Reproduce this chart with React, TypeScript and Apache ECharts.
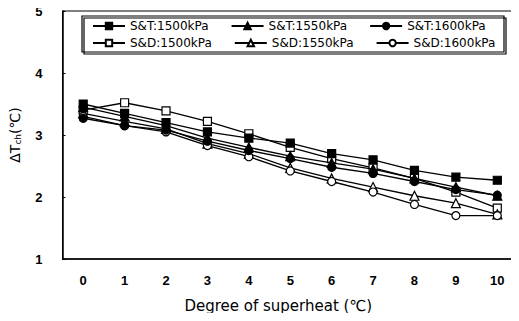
import React, { useEffect, useRef } from "react";
import * as echarts from "echarts";

const categories = ["0", "1", "2", "3", "4", "5", "6", "7", "8", "9", "10"];
const stT1500 = [3.5, 3.35, 3.2, 3.05, 2.95, 2.87, 2.7, 2.6, 2.43, 2.32, 2.27];
const stT1550 = [3.45, 3.3, 3.15, 2.95, 2.8, 2.66, 2.55, 2.45, 2.3, 2.16, 2.02];
const stT1600 = [3.27, 3.15, 3.08, 2.9, 2.75, 2.62, 2.48, 2.38, 2.25, 2.12, 2.03];
const sdD1500 = [3.4, 3.52, 3.39, 3.22, 3.02, 2.8, 2.62, 2.47, 2.3, 2.08, 1.82];
const sdD1550 = [3.35, 3.22, 3.1, 2.86, 2.7, 2.47, 2.3, 2.16, 2.02, 1.9, 1.72];
const sdD1600 = [3.3, 3.15, 3.05, 2.83, 2.65, 2.42, 2.25, 2.08, 1.88, 1.7, 1.7];

const names = [
  "S&T:1500kPa",
  "S&T:1550kPa",
  "S&T:1600kPa",
  "S&D:1500kPa",
  "S&D:1550kPa",
  "S&D:1600kPa",
];

export default function App() {
  const ref = useRef<HTMLDivElement>(null);
  useEffect(() => {
    if (!ref.current) return;
    const chart = echarts.init(ref.current, undefined, { renderer: "svg" });
    const font = "Liberation Sans, Arial, sans-serif";
    const wide = "DejaVu Sans, sans-serif";
    const mk = (name: string, data: number[], symbol: string, filled: boolean) => ({
      name,
      type: "line",
      data,
      symbol,
      symbolSize: symbol === "triangle" ? 9 : 8,
      showAllSymbol: true,
      lineStyle: { color: "#000", width: 1.3 },
      itemStyle: {
        color: filled ? "#000" : "#fff",
        borderColor: "#000",
        borderWidth: 1.2,
      },
      z: filled ? 3 : 2,
    });
    const legendText = { fontFamily: wide, fontSize: 12, color: "#000" };
    const legendBase = {
      left: 92,
      itemWidth: 32,
      itemHeight: 8,
      itemGap: 22,
      textStyle: legendText,
      padding: 0,
    };
    chart.setOption({
      animation: false,
      backgroundColor: "#fff",
      grid: {
        left: 62,
        top: 11,
        right: 1,
        bottom: 62,
        show: true,
        borderColor: "#000",
        borderWidth: 1,
      },
      legend: [
        { ...legendBase, data: names.slice(0, 3), top: 20 },
        { ...legendBase, data: names.slice(3, 6), top: 37 },
      ],
      graphic: [
        {
          type: "rect",
          shape: { x: 84, y: 18, width: 422, height: 36 },
          style: { fill: "rgba(0,0,0,0)", stroke: "#000", lineWidth: 1.2 },
          z: 0,
        },
        {
          type: "rect",
          shape: { x: 82, y: 16, width: 422, height: 36 },
          style: { fill: "#fff", stroke: "#000", lineWidth: 1.2 },
          z: -1,
        },
      ],
      xAxis: {
        type: "category",
        data: categories,
        boundaryGap: true,
        name: "Degree of superheat (\u2103)",
        nameLocation: "middle",
        nameGap: 39,
        nameTextStyle: {
          fontFamily: wide,
          fontSize: 15,
          color: "#000",
          padding: [0, 24, 0, 0],
        },
        axisLine: { lineStyle: { color: "#000", width: 1.5 } },
        axisTick: { inside: true, length: 3, lineStyle: { color: "#000" } },
        axisLabel: {
          fontFamily: font,
          fontSize: 13,
          fontWeight: "bold",
          color: "#000",
          margin: 15,
        },
        splitLine: { show: false },
      },
      yAxis: {
        type: "value",
        min: 1,
        max: 5,
        interval: 1,
        name: "{a|\u0394T}{b|ch}{a|(\u2103)}",
        nameLocation: "middle",
        nameRotate: 90,
        nameGap: 40,
        nameTextStyle: {
          rich: {
            a: { fontFamily: wide, fontSize: 14, color: "#000" },
            b: { fontFamily: wide, fontSize: 9, color: "#000", verticalAlign: "bottom", padding: [6, 0, 0, 0] },
          },
        },
        axisLine: { show: true, lineStyle: { color: "#000", width: 1.5 } },
        axisTick: { show: true, inside: true, length: 3, lineStyle: { color: "#000" } },
        axisLabel: {
          fontFamily: font,
          fontSize: 13,
          fontWeight: "bold",
          color: "#000",
          margin: 20,
        },
        splitLine: { show: false },
      },
      series: [
        mk(names[0], stT1500, "rect", true),
        mk(names[1], stT1550, "triangle", true),
        mk(names[2], stT1600, "circle", true),
        mk(names[3], sdD1500, "rect", false),
        mk(names[4], sdD1550, "triangle", false),
        mk(names[5], sdD1600, "circle", false),
      ],
    });
    return () => chart.dispose();
  }, []);
  return <div ref={ref} style={{ width: 519, height: 321, margin: -8 }} />;
}
